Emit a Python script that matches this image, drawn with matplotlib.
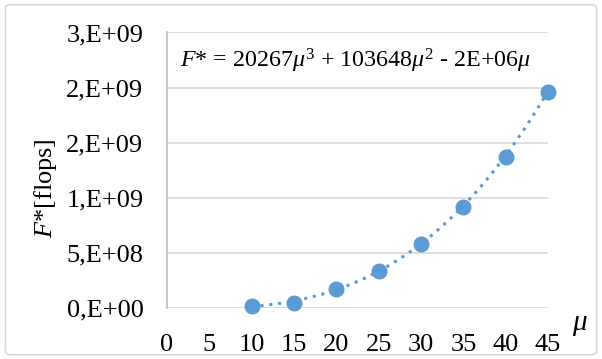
import numpy as np
import matplotlib
matplotlib.use("Agg")
import matplotlib.pyplot as plt
from matplotlib.patches import FancyBboxPatch

mu = [10, 15, 20, 25, 30, 35, 40, 45]
flops = [12e6, 42e6, 168e6, 333e6, 577e6, 915e6, 1.372e9, 1.962e9]
coef = [20267, 103648, -2e6]  # mu^3, mu^2, mu
xticks = [0, 5, 10, 15, 20, 25, 30, 35, 40, 45]
yticks = [0, 5e8, 1e9, 1.5e9, 2e9, 2.5e9]
ylabels = ["0,E+00", "5,E+08", "1,E+09", "2,E+09", "2,E+09", "3,E+09"]

plt.rcParams['font.family'] = ['Liberation Serif', 'DejaVu Serif']
plt.rcParams['mathtext.fontset'] = 'custom'
plt.rcParams['mathtext.rm'] = 'Liberation Serif'
plt.rcParams['mathtext.it'] = 'Liberation Serif:italic'

fig = plt.figure(figsize=(6.02, 3.59), dpi=100)
ax = fig.add_axes([0.2774, 0.1429, 0.6329, 0.7666])

blue = '#5B9BD5'
xs = np.linspace(mu[0], mu[-1], 200)
ys = coef[0]*xs**3 + coef[1]*xs**2 + coef[2]*xs
ax.plot(xs, ys, color=blue, lw=2.2, linestyle=(0, (1, 1.9)), zorder=2)
ax.plot(mu, flops, 'o', color=blue, ms=10.5, zorder=3, clip_on=False)

ax.set_xlim(0, 45)
ax.set_ylim(0, 2.5e9)
ax.set_xticks(xticks)
ax.set_yticks(yticks)
ax.set_yticklabels(ylabels)
ax.tick_params(length=0, labelsize=19)
ax.tick_params(axis='x', pad=19)
ax.tick_params(axis='y', pad=17)
ax.grid(axis='y', color='#D9D9D9', lw=1.2)
ax.set_axisbelow(True)
for s in ['top', 'right', 'bottom']:
    ax.spines[s].set_visible(False)
ax.spines['left'].set_color('#BFBFBF')
ax.spines['left'].set_linewidth(1.2)

fig.text(0.075, 0.475, r"$F$*[flops]", rotation=90, fontsize=19, ha='center', va='center')
fig.text(0.963, 0.095, r"$\mu$", fontsize=21, ha='center', va='center')
ax.text(0.495, 0.895, r"$F$* = 20267$\mu^3$ + 103648$\mu^2$ - 2E+06$\mu$",
        transform=ax.transAxes, fontsize=17.3, ha='center', va='center')

border = FancyBboxPatch((0.009, 0.012), 0.982, 0.975, boxstyle="round,pad=0,rounding_size=0.01",
                        transform=fig.transFigure, fill=False, ec='#D9D9D9', lw=1.2)
fig.patches.append(border)

fig.savefig("out.png", dpi=100)
